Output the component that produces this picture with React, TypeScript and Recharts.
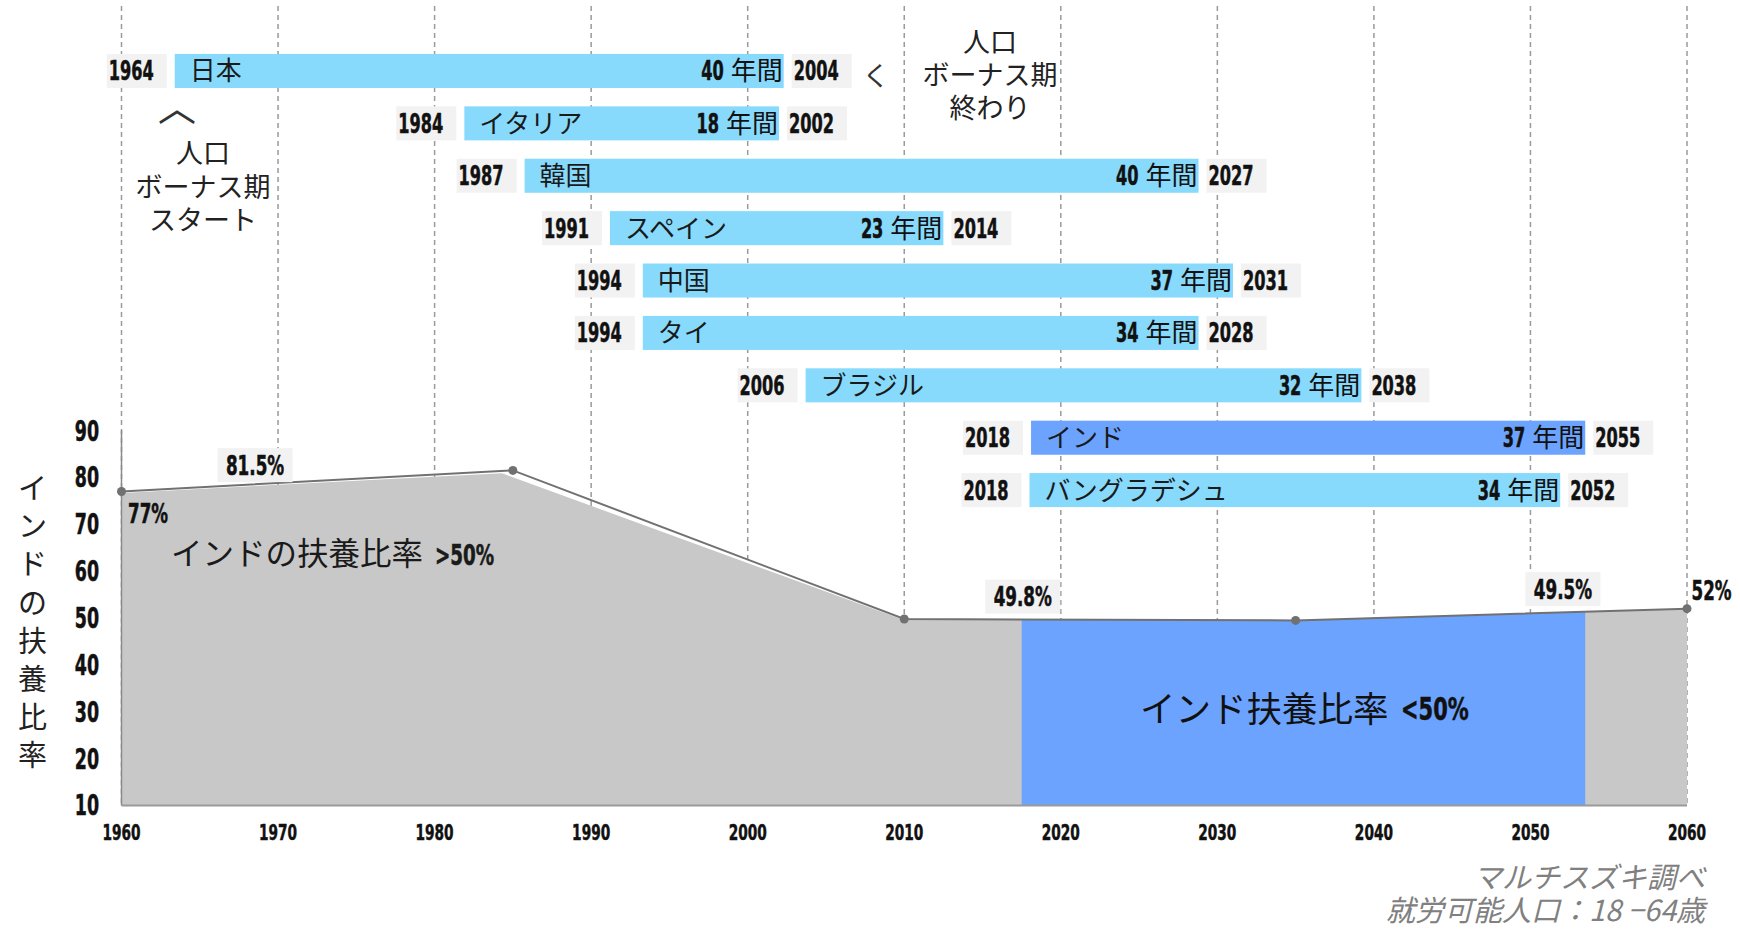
import React from 'react';
import {
  ComposedChart,
  Area,
  Line,
  XAxis,
  YAxis,
  CartesianGrid,
  ReferenceArea,
  ReferenceLine,
  LabelList,
} from 'recharts';

// ---------- data ----------
// India dependency ratio line
const ratioYears = [1960, 1985, 2010, 2035, 2060];
const ratioValues = [77, 81.5, 49.8, 49.5, 52];
const ratioLabels = ['77%', '81.5%', '49.8%', '49.5%', '52%'];

// grey fill under the line (slightly offset as in the original)
const fillYears = [1960, 1984.3, 2009.8, 2035, 2060];
const fillValues = [76.7, 80.9, 49.8, 49.5, 52];

// blue "<50%" window
const lowYears = [2017.5, 2035, 2053.5];
const lowValues = [49.8, 49.5, 51.3];

// demographic bonus bars
const countries = ['日本', 'イタリア', '韓国', 'スペイン', '中国', 'タイ', 'ブラジル', 'インド', 'バングラデシュ'];
const startYears = [1964, 1984, 1987, 1991, 1994, 1994, 2006, 2018, 2018];
const endYears = [2004, 2002, 2027, 2014, 2031, 2028, 2038, 2055, 2052];
const durations = [40, 18, 40, 23, 37, 34, 32, 37, 34];
const barFrom = [1963.4, 1981.9, 1985.75, 1991.2, 1993.3, 1993.3, 2003.7, 2018.1, 2018.0];
const barTo = [2002.3, 2002.0, 2028.8, 2012.5, 2031.0, 2028.8, 2039.2, 2053.5, 2051.9];

const xTicks = [1960, 1970, 1980, 1990, 2000, 2010, 2020, 2030, 2040, 2050, 2060];
const yTicks = [10, 20, 30, 40, 50, 60, 70, 80, 90];

// ---------- style ----------
const W = 1740;
const H = 930;
const JP = "'Noto Sans CJK JP', 'Noto Sans CJK SC', sans-serif";
const NUM = "'Liberation Sans Narrow', 'DejaVu Sans Condensed', 'DejaVu Sans', sans-serif";
const BAR_BLUE = '#88dafd';
const INDIA_BLUE = '#6ca3fe';
const GREY_FILL = '#c8c8c8';
const BOX_FILL = '#f2f2f2';
const LINE_GREY = '#717171';
const BOX_W = 60;
const BOX_GAP = 8;

const LABEL_LAYOUT = [
  { dx: 6.5, dy: 21.6, anchor: 'start', box: false },
  { dx: -257.8, dy: -5.3, anchor: 'middle', box: true },
  { dx: 118.5, dy: -22.4, anchor: 'middle', box: true },
  { dx: 267.3, dy: -31.3, anchor: 'middle', box: true },
  { dx: 24.5, dy: -18.6, anchor: 'middle', box: false },
];

const lineData = ratioYears.map((year, i) => ({ year, ratio: ratioValues[i], label: ratioLabels[i] }));
const fillData = fillYears.map((year, i) => ({ year, ratio: fillValues[i] }));
const lowData = lowYears.map((year, i) => ({ year, ratio: lowValues[i] }));

// condensed numeric text (forces the narrow look of the original typeface)
const CHAR_W: Record<string, number> = { '.': 7, '%': 17.5, '>': 15, '<': 15, ' ': 6 };
const numLen = (s: string, fs: number) =>
  Array.from(s).reduce((a, c) => a + (CHAR_W[c] ?? 11.25), 0) * (fs / 26);

function NumText(props: { x: number; y: number; fs: number; anchor?: string; text: string | number; fill?: string }) {
  const s = String(props.text);
  const fill = props.fill ?? '#111';
  return (
    <text
      x={props.x}
      y={props.y}
      fontFamily={NUM}
      fontWeight="bold"
      fontSize={props.fs}
      fill={fill}
      stroke={fill}
      strokeWidth={0.5}
      textAnchor={(props.anchor ?? 'start') as any}
      textLength={numLen(s, props.fs)}
      lengthAdjust="spacingAndGlyphs"
    >
      {s}
    </text>
  );
}

function RowShape(props: any) {
  const { x, y, width, height, i } = props;
  const cy = y + height / 2;
  const base = cy + 9.5;
  const color = countries[i] === 'インド' ? INDIA_BLUE : BAR_BLUE;
  const sx = x - BOX_GAP - BOX_W;
  const ex = x + width + BOX_GAP;
  const right = x + width - 1;
  return (
    <g>
      <rect x={sx} y={y} width={BOX_W} height={height} fill={BOX_FILL} />
      <NumText x={sx + 2} y={base} fs={26} text={startYears[i]} />
      <rect x={x} y={y} width={width} height={height} fill={color} />
      <text x={x + 15} y={base} fontFamily={JP} fontSize={26} fill="#1a1a1a">
        {countries[i]}
      </text>
      <text x={right} y={base} textAnchor="end" fontFamily={JP} fontSize={26} fill="#111">
        年間
      </text>
      <NumText x={right - 52 - 7} y={base} fs={26} anchor="end" text={durations[i]} />
      <rect x={ex} y={y} width={BOX_W} height={height} fill={BOX_FILL} />
      <NumText x={ex + 2} y={base} fs={26} text={endYears[i]} />
    </g>
  );
}

const renderPointLabel = (props: any) => {
  const { index, value } = props;
  const vb = props.viewBox || {};
  const px = typeof props.x === 'number' ? props.x : (vb.x ?? 0) + (vb.width ?? 0) / 2;
  const py = typeof props.y === 'number' ? props.y : (vb.y ?? 0) + (vb.height ?? 0) / 2;
  const L = LABEL_LAYOUT[index];
  if (!L) return null;
  const cx = px + L.dx;
  const cy = py + L.dy;
  return (
    <g key={`pl-${index}`}>
      {L.box && <rect x={cx - 37.5} y={cy - 17} width={75} height={34} fill={BOX_FILL} />}
      <NumText x={cx} y={cy + 9.5} fs={26} anchor={L.anchor} text={value} />
    </g>
  );
};

const XTick = (p: any) => (
  <NumText x={p.x} y={p.y + 0.71 * 22} fs={22} anchor="middle" text={p.payload.value} />
);
const YTick = (p: any) => (
  <NumText x={p.x} y={p.y + 0.355 * 28} fs={28} anchor="end" text={p.payload.value} />
);

const yTitle = ['イ', 'ン', 'ド', 'の', '扶', '養', '比', '率'];

export default function App() {
  return (
    <div style={{ position: 'absolute', left: 0, top: 0, width: W, height: H, background: '#fff' }}>
      <ComposedChart width={W} height={H} margin={{ top: 6, right: 53, bottom: 84.5, left: 61.5 }}>
        <CartesianGrid horizontal={false} stroke="#9a9a9a" strokeDasharray="5 4" strokeWidth={1.5} />
        <XAxis
          dataKey="year"
          type="number"
          domain={[1960, 2060]}
          ticks={xTicks}
          interval={0}
          axisLine={{ stroke: '#9a9a9a', strokeWidth: 2 }}
          tickLine={false}
          tickMargin={13}
          height={40}
          tick={XTick}
        />
        <YAxis
          yAxisId="ratio"
          type="number"
          domain={[10, 180.6]}
          ticks={yTicks}
          interval={0}
          allowDataOverflow
          axisLine={false}
          tickLine={false}
          tickMargin={16.5}
          width={60}
          tick={YTick}
        />
        <YAxis yAxisId="rows" hide type="number" domain={[-1.24, 14.02]} reversed allowDataOverflow />
        <Area
          yAxisId="ratio"
          data={fillData}
          dataKey="ratio"
          type="linear"
          stroke="none"
          fill={GREY_FILL}
          fillOpacity={1}
          baseValue={10}
          isAnimationActive={false}
        />
        <Area
          yAxisId="ratio"
          data={lowData}
          dataKey="ratio"
          type="linear"
          stroke="none"
          fill={INDIA_BLUE}
          fillOpacity={1}
          baseValue={10}
          isAnimationActive={false}
        />
        <ReferenceLine
          yAxisId="ratio"
          segment={[
            { x: 1960, y: 10 },
            { x: 1960, y: 90 },
          ]}
          stroke="#8a8a8a"
          strokeWidth={1.5}
        />
        <Line
          yAxisId="ratio"
          data={lineData}
          dataKey="ratio"
          type="linear"
          stroke={LINE_GREY}
          strokeWidth={2}
          dot={{ r: 4.5, fill: LINE_GREY, stroke: 'none' }}
          activeDot={false}
          isAnimationActive={false}
        >
          <LabelList dataKey="label" content={renderPointLabel} />
        </Line>
        {countries.map((c, i) => (
          <ReferenceArea
            key={c}
            yAxisId="rows"
            x1={barFrom[i]}
            x2={barTo[i]}
            y1={i - 0.325}
            y2={i + 0.325}
            ifOverflow="visible"
            shape={(p: any) => <RowShape {...p} i={i} />}
          />
        ))}
      </ComposedChart>
      <svg
        width={W}
        height={H}
        style={{ position: 'absolute', left: 0, top: 0, pointerEvents: 'none' }}
      >
        {/* y-axis title */}
        {yTitle.map((ch, k) => (
          <text key={k} x={32.5} y={499 + k * 38.2} textAnchor="middle" fontFamily={JP} fontSize={29} fill="#222">
            {ch}
          </text>
        ))}
        {/* start annotation */}
        <text x={177} y={121} textAnchor="middle" fontFamily={JP} fontSize={38} fill="#333">
          ︿
        </text>
        <text x={203} y={163} textAnchor="middle" fontFamily={JP} fontSize={27} fill="#222">人口</text>
        <text x={203} y={197} textAnchor="middle" fontFamily={JP} fontSize={27} fill="#222">ボーナス期</text>
        <text x={203} y={230} textAnchor="middle" fontFamily={JP} fontSize={27} fill="#222">スタート</text>
        {/* end annotation */}
        <text x={876} y={86} textAnchor="middle" fontFamily={JP} fontSize={27} fill="#333">
          く
        </text>
        <text x={990} y={52} textAnchor="middle" fontFamily={JP} fontSize={27} fill="#222">人口</text>
        <text x={990} y={85} textAnchor="middle" fontFamily={JP} fontSize={27} fill="#222">ボーナス期</text>
        <text x={990} y={118} textAnchor="middle" fontFamily={JP} fontSize={27} fill="#222">終わり</text>
        {/* area annotations */}
        <text x={171} y={565} fontFamily={JP} fontSize={31.5} fill="#1a1a1a">
          インドの扶養比率
        </text>
        <NumText x={435} y={564.5} fs={28} text=">50%" fill="#1a1a1a" />
        <text x={1140} y={721.5} fontFamily={JP} fontSize={35.5} fill="#111">
          インド扶養比率
        </text>
        <NumText x={1401} y={720} fs={32} text="<50%" />
        {/* source */}
        <text x={1705} y={888} textAnchor="end" fontFamily={JP} fontSize={29} fontStyle="italic" fill="#808080">
          マルチスズキ調べ
        </text>
        <text x={1705} y={921} textAnchor="end" fontFamily={JP} fontSize={29} fontStyle="italic" fill="#808080">
          就労可能人口：18 −64歳
        </text>
      </svg>
    </div>
  );
}
